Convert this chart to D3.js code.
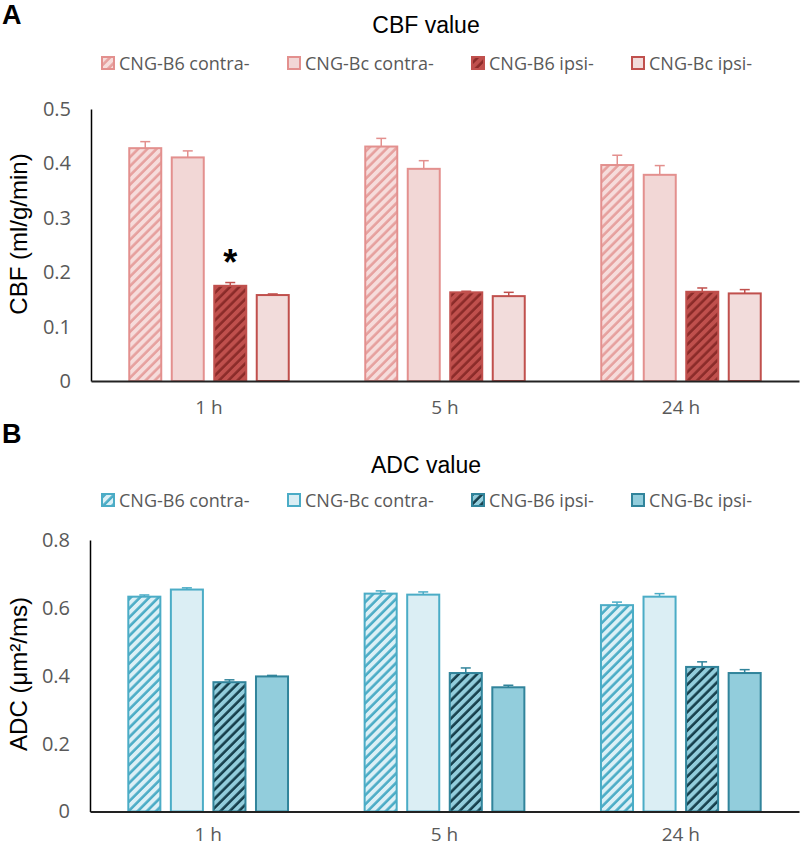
<!DOCTYPE html>
<html>
<head>
<meta charset="utf-8">
<script src="https://cdn.jsdelivr.net/npm/d3@7"></script>
<style>
  html, body { margin: 0; padding: 0; background: #fff; }
  svg { display: block; }
</style>
</head>
<body>
<svg id="chart" width="800" height="847"></svg>
<script>
// ---------- data ----------
const timepoints = ["1 h", "5 h", "24 h"];
const seriesNames = ["CNG-B6 contra-", "CNG-Bc contra-", "CNG-B6 ipsi-", "CNG-Bc ipsi-"];

// CBF (ml/g/min)
const cbfB6Contra = [0.428, 0.431, 0.397];
const cbfBcContra = [0.411, 0.390, 0.379];
const cbfB6Ipsi   = [0.175, 0.163, 0.164];
const cbfBcIpsi   = [0.158, 0.156, 0.161];
const cbfB6ContraErr = [0.012, 0.015, 0.018];
const cbfBcContraErr = [0.012, 0.015, 0.017];
const cbfB6IpsiErr   = [0.006, 0.002, 0.007];
const cbfBcIpsiErr   = [0.002, 0.007, 0.007];
const cbfTickValues = [0, 0.1, 0.2, 0.3, 0.4, 0.5];
const cbfTickLabels = ["0", "0.1", "0.2", "0.3", "0.4", "0.5"];

// ADC (µm²/ms)
const adcB6Contra = [0.633, 0.642, 0.608];
const adcBcContra = [0.654, 0.639, 0.633];
const adcB6Ipsi   = [0.381, 0.408, 0.426];
const adcBcIpsi   = [0.398, 0.366, 0.408];
const adcB6ContraErr = [0.005, 0.008, 0.009];
const adcBcContraErr = [0.005, 0.008, 0.009];
const adcB6IpsiErr   = [0.007, 0.015, 0.015];
const adcBcIpsiErr   = [0.003, 0.006, 0.010];
const adcTickValues = [0, 0.2, 0.4, 0.6, 0.8];
const adcTickLabels = ["0", "0.2", "0.4", "0.6", "0.8"];

// significance marker: [timepoint index, series index]
const cbfStars = [[0, 2]];

// ---------- styles ----------
const cbfStyles = [
  { hatch: true,  bg: "#f6dcdb", stripe: "#e6a09e", stroke: "#e3908e" },
  { hatch: false, bg: "#f2d7d6", stripe: null,      stroke: "#e3908e" },
  { hatch: true,  bg: "#c0504d", stripe: "#8a2b29", stroke: "#c0504d" },
  { hatch: false, bg: "#f2dcdb", stripe: null,      stroke: "#c0504d" }
];
const adcStyles = [
  { hatch: true,  bg: "#dcf0f6", stripe: "#4bacc6", stroke: "#4bacc6" },
  { hatch: false, bg: "#dbeef4", stripe: null,      stroke: "#4bacc6" },
  { hatch: true,  bg: "#92cddc", stripe: "#163f4c", stroke: "#31849b" },
  { hatch: false, bg: "#92cddc", stripe: null,      stroke: "#31849b" }
];

const svg = d3.select("#chart");
const defs = svg.append("defs");

function makePatterns(prefix, styles) {
  styles.forEach((s, i) => {
    if (!s.hatch) return;
    const p = defs.append("pattern")
      .attr("id", prefix + i)
      .attr("patternUnits", "userSpaceOnUse")
      .attr("width", 6.5).attr("height", 6.5)
      .attr("patternTransform", "rotate(45)");
    p.append("rect").attr("width", 6.5).attr("height", 6.5).attr("fill", s.bg);
    p.append("line").attr("x1", 1.5).attr("y1", 0).attr("x2", 1.5).attr("y2", 6.5)
      .attr("stroke", s.stripe).attr("stroke-width", 2.6);
  });
}
makePatterns("cbfpat", cbfStyles);
makePatterns("adcpat", adcStyles);

function fillOf(prefix, styles, i) {
  return styles[i].hatch ? `url(#${prefix}${i})` : styles[i].bg;
}

function drawPanel(cfg) {
  const g = svg.append("g");
  const x = d3.scaleBand().domain(timepoints)
    .range([cfg.left, 799]).paddingInner(0.3157).paddingOuter(0.3157 / 2);
  const xi = d3.scaleBand().domain(seriesNames)
    .range([0, x.bandwidth()]).paddingInner(0.2).paddingOuter(0);
  const y = d3.scaleLinear().domain(cfg.domain).range([cfg.bottom, cfg.top]);

  // panel letter
  g.append("text").attr("x", 2).attr("y", cfg.letterY)
    .attr("font-family", "Liberation Sans, Arial, sans-serif")
    .attr("font-weight", "bold").attr("font-size", 27).attr("fill", "#000")
    .text(cfg.letter);

  // title
  g.append("text").attr("x", 426).attr("y", cfg.titleY)
    .attr("text-anchor", "middle")
    .attr("font-family", "Liberation Sans, Arial, sans-serif")
    .attr("font-size", 23).attr("fill", "#000")
    .text(cfg.title);

  // legend
  const legendX = [101, 287, 471, 631];
  const lg = g.append("g");
  seriesNames.forEach((name, i) => {
    lg.append("rect")
      .attr("x", legendX[i] + 1).attr("y", cfg.legendY - 6)
      .attr("width", 12).attr("height", 12)
      .attr("fill", fillOf(cfg.prefix, cfg.styles, i))
      .attr("stroke", cfg.styles[i].stroke).attr("stroke-width", 2);
    lg.append("text")
      .attr("x", legendX[i] + 18).attr("y", cfg.legendY + 6.5)
      .attr("font-family", "Open Sans, sans-serif")
      .attr("font-size", 18).attr("fill", "#595959")
      .text(name);
  });

  // y axis
  const yAxis = d3.axisLeft(y).tickValues(cfg.tickValues)
    .tickFormat((d, i) => cfg.tickLabels[i]).tickSize(0).tickSizeOuter(0).tickPadding(20);
  const ya = g.append("g").attr("transform", `translate(${cfg.left},0)`).call(yAxis);
  ya.select(".domain").attr("stroke", "#000").attr("stroke-width", 1.5);
  ya.selectAll("text").attr("font-family", "Open Sans, sans-serif")
    .attr("font-size", 20).attr("fill", "#595959");

  // y title
  g.append("text")
    .attr("transform", `translate(${cfg.yTitleX},${cfg.yTitleY}) rotate(-90)`)
    .attr("text-anchor", "middle")
    .attr("font-family", "Liberation Sans, Arial, sans-serif")
    .attr("font-size", 24).attr("fill", "#000")
    .text(cfg.yTitle);

  // bars
  cfg.values.forEach((vals, si) => {
    const st = cfg.styles[si];
    vals.forEach((v, ti) => {
      const bx = x(timepoints[ti]) + xi(seriesNames[si]);
      const bw = xi.bandwidth();
      g.append("rect")
        .attr("x", bx + 1).attr("y", y(v))
        .attr("width", bw - 2).attr("height", y(0) - y(v))
        .attr("fill", fillOf(cfg.prefix, cfg.styles, si))
        .attr("stroke", st.stroke).attr("stroke-width", 2);
      // error bar
      const e = cfg.errors[si][ti];
      const cx = bx + bw / 2;
      g.append("line").attr("x1", cx).attr("x2", cx)
        .attr("y1", y(v)).attr("y2", y(v + e))
        .attr("stroke", st.stroke).attr("stroke-width", 1.5);
      g.append("line").attr("x1", cx - 5).attr("x2", cx + 5)
        .attr("y1", y(v + e)).attr("y2", y(v + e))
        .attr("stroke", st.stroke).attr("stroke-width", 1.5);
    });
  });

  // stars
  (cfg.stars || []).forEach(([ti, si]) => {
    const v = cfg.values[si][ti] + cfg.errors[si][ti];
    const cx = x(timepoints[ti]) + xi(seriesNames[si]) + xi.bandwidth() / 2;
    g.append("text").attr("x", cx).attr("y", y(v))
      .attr("dy", "-0.2em")
      .attr("text-anchor", "middle")
      .attr("font-family", "Liberation Sans, Arial, sans-serif")
      .attr("font-weight", "bold").attr("font-size", 36).attr("fill", "#000")
      .text("*");
  });

  // x axis
  const xAxis = d3.axisBottom(x).tickSize(0).tickSizeOuter(0).tickPadding(cfg.xPad);
  const xa = g.append("g").attr("transform", `translate(0,${cfg.bottom})`).call(xAxis);
  xa.select(".domain").attr("stroke", "#222").attr("stroke-width", 2);
  xa.selectAll("text").attr("font-family", "Open Sans, sans-serif")
    .attr("font-size", 19).attr("fill", "#595959");
}

drawPanel({
  letter: "A", letterY: 24, title: "CBF value", titleY: 33, legendY: 63,
  left: 91, top: 109, bottom: 381, domain: [0, 0.5],
  tickValues: cbfTickValues, tickLabels: cbfTickLabels,
  yTitle: "CBF (ml/g/min)", yTitleX: 27, yTitleY: 234, xPad: 20,
  prefix: "cbfpat", styles: cbfStyles,
  values: [cbfB6Contra, cbfBcContra, cbfB6Ipsi, cbfBcIpsi],
  errors: [cbfB6ContraErr, cbfBcContraErr, cbfB6IpsiErr, cbfBcIpsiErr],
  stars: cbfStars
});

drawPanel({
  letter: "B", letterY: 443, title: "ADC value", titleY: 473, legendY: 500,
  left: 90, top: 540, bottom: 811.5, domain: [0, 0.8],
  tickValues: adcTickValues, tickLabels: adcTickLabels,
  yTitle: "ADC (μm²/ms)", yTitleX: 27, yTitleY: 674, xPad: 16,
  prefix: "adcpat", styles: adcStyles,
  values: [adcB6Contra, adcBcContra, adcB6Ipsi, adcBcIpsi],
  errors: [adcB6ContraErr, adcBcContraErr, adcB6IpsiErr, adcBcIpsiErr],
  stars: []
});
</script>
</body>
</html>
